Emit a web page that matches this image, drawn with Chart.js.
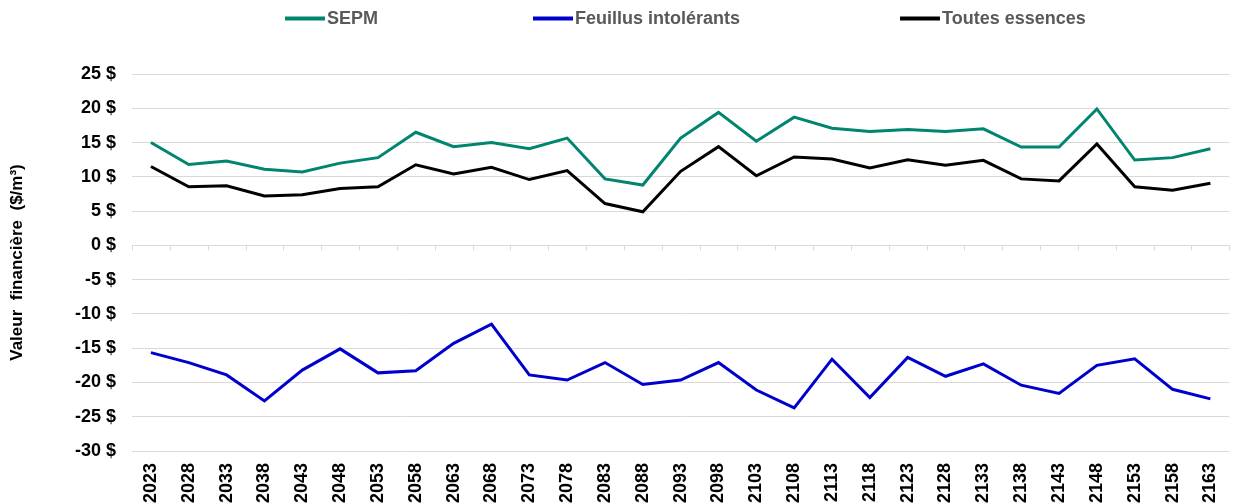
<!DOCTYPE html>
<html>
<head>
<meta charset="utf-8">
<script src="https://cdn.jsdelivr.net/npm/chart.js@4"></script>
<style>
  html, body { margin: 0; padding: 0; background: #fff; }
  #wrap { position: relative; width: 1244px; height: 504px; }
</style>
</head>
<body>
<div id="wrap"><canvas id="c" width="1244" height="504"></canvas></div>
<script>
const years = ['2023','2028','2033','2038','2043','2048','2053','2058','2063','2068','2073','2078','2083','2088','2093','2098','2103','2108','2113','2118','2123','2128','2133','2138','2143','2148','2153','2158','2163'];
const sepm = [15.0, 11.8, 12.3, 11.1, 10.7, 12.0, 12.8, 16.5, 14.4, 15.0, 14.1, 15.65, 9.7, 8.8, 15.65, 19.4, 15.2, 18.7, 17.1, 16.6, 16.9, 16.6, 17.0, 14.35, 14.35, 19.9, 12.45, 12.8, 14.1];
const feuillus = [-15.65, -17.1, -18.9, -22.7, -18.2, -15.1, -18.6, -18.3, -14.3, -11.5, -18.9, -19.65, -17.1, -20.3, -19.65, -17.1, -21.1, -23.7, -16.6, -22.2, -16.35, -19.1, -17.3, -20.4, -21.6, -17.5, -16.55, -21.0, -22.4];
const toutes = [11.5, 8.55, 8.7, 7.2, 7.4, 8.3, 8.55, 11.75, 10.4, 11.4, 9.6, 10.9, 6.1, 4.9, 10.8, 14.4, 10.15, 12.9, 12.6, 11.3, 12.5, 11.7, 12.4, 9.7, 9.4, 14.8, 8.55, 8.05, 9.05];
const seriesNames = ['SEPM', 'Feuillus intolérants', 'Toutes essences'];
const yTicks = { min: -30, max: 25, step: 5 };

const FONT = '"Liberation Sans", Arial, sans-serif';
const colors = ['#00866e', '#0000cc', '#000000'];

const legendPlugin = {
  id: 'customLegend',
  afterDraw(chart) {
    const ctx = chart.ctx;
    const pos = [285, 533, 900];
    ctx.save();
    ctx.font = 'bold 18px ' + FONT;
    ctx.textBaseline = 'middle';
    ctx.textAlign = 'left';
    chart.data.datasets.forEach((ds, i) => {
      const x = pos[i], y = 18.5;
      ctx.strokeStyle = ds.borderColor;
      ctx.lineWidth = 4;
      ctx.beginPath();
      ctx.moveTo(x, y);
      ctx.lineTo(x + 40, y);
      ctx.stroke();
      ctx.fillStyle = '#595959';
      ctx.fillText(ds.label, x + 42, y + 1);
    });
    ctx.restore();
  }
};

const zeroTicksPlugin = {
  id: 'zeroTicks',
  beforeDatasetsDraw(chart) {
    const xs = chart.scales.x, ys = chart.scales.y;
    const y0 = ys.getPixelForValue(0);
    const n = chart.data.labels.length;
    const w = (xs.right - xs.left) / n;
    const ctx = chart.ctx;
    ctx.save();
    ctx.strokeStyle = '#d9d9d9';
    ctx.lineWidth = 1;
    ctx.beginPath();
    for (let k = 0; k <= n; k++) {
      const x = Math.round(xs.left + k * w) + 0.5;
      ctx.moveTo(x, y0);
      ctx.lineTo(x, y0 + 5);
    }
    ctx.stroke();
    ctx.restore();
  }
};

new Chart(document.getElementById('c'), {
  type: 'line',
  data: {
    labels: years,
    datasets: [
      { label: seriesNames[0], data: sepm, borderColor: colors[0], backgroundColor: colors[0] },
      { label: seriesNames[1], data: feuillus, borderColor: colors[1], backgroundColor: colors[1] },
      { label: seriesNames[2], data: toutes, borderColor: colors[2], backgroundColor: colors[2] }
    ]
  },
  options: {
    responsive: false,
    animation: false,
    devicePixelRatio: 1,
    layout: { padding: { top: 74, right: 0, left: 0, bottom: 0 } },
    elements: {
      line: { borderWidth: 3, tension: 0, borderCapStyle: 'butt', borderJoinStyle: 'miter' },
      point: { radius: 0, hoverRadius: 0 }
    },
    plugins: {
      legend: { display: false },
      tooltip: { enabled: false }
    },
    scales: {
      x: {
        type: 'category',
        offset: true,
        grid: { display: false, drawTicks: false, tickLength: 0 },
        border: { display: false },
        ticks: {
          autoSkip: false,
          minRotation: 90,
          maxRotation: 90,
          padding: 12,
          color: '#000',
          font: { family: FONT, size: 18, weight: 'bold' }
        },
        afterFit(scale) { scale.height = 53; }
      },
      y: {
        min: yTicks.min,
        max: yTicks.max,
        ticks: {
          stepSize: yTicks.step,
          padding: 16,
          color: '#000',
          font: { family: FONT, size: 18, weight: 'bold' },
          callback: v => v + ' $'
        },
        grid: { color: '#d9d9d9', lineWidth: 1, drawTicks: false },
        border: { display: false },
        title: {
          display: true,
          text: 'Valeur  financière  ($/m³)',
          color: '#000',
          font: { family: FONT, size: 17, weight: 'bold' },
          padding: { top: 7, bottom: 0 }
        },
        afterFit(scale) { scale.width = 132; }
      }
    }
  },
  plugins: [zeroTicksPlugin, legendPlugin]
});
</script>
</body>
</html>
